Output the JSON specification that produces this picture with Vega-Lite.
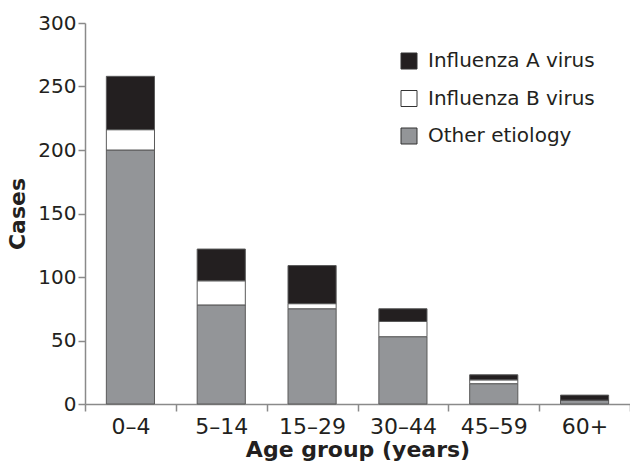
{
  "$schema": "https://vega.github.io/schema/vega-lite/v6.json",
  "width": 545,
  "height": 381,
  "autosize": "none",
  "padding": {"left": 85, "top": 23, "right": 0, "bottom": 60},
  "background": "white",
  "data": {
    "values": [
      {"age": "0–4", "etiology": "Other etiology", "cases": 200},
      {"age": "0–4", "etiology": "Influenza B virus", "cases": 16},
      {"age": "0–4", "etiology": "Influenza A virus", "cases": 42},
      {"age": "5–14", "etiology": "Other etiology", "cases": 78},
      {"age": "5–14", "etiology": "Influenza B virus", "cases": 19},
      {"age": "5–14", "etiology": "Influenza A virus", "cases": 25},
      {"age": "15–29", "etiology": "Other etiology", "cases": 75},
      {"age": "15–29", "etiology": "Influenza B virus", "cases": 4},
      {"age": "15–29", "etiology": "Influenza A virus", "cases": 30},
      {"age": "30–44", "etiology": "Other etiology", "cases": 53},
      {"age": "30–44", "etiology": "Influenza B virus", "cases": 12},
      {"age": "30–44", "etiology": "Influenza A virus", "cases": 10},
      {"age": "45–59", "etiology": "Other etiology", "cases": 16},
      {"age": "45–59", "etiology": "Influenza B virus", "cases": 3},
      {"age": "45–59", "etiology": "Influenza A virus", "cases": 4},
      {"age": "60+", "etiology": "Other etiology", "cases": 3},
      {"age": "60+", "etiology": "Influenza B virus", "cases": 0},
      {"age": "60+", "etiology": "Influenza A virus", "cases": 4}
    ]
  },
  "mark": {"type": "bar", "width": {"band": 0.53}, "stroke": "#5a5a5a", "strokeWidth": 1},
  "encoding": {
    "x": {
      "field": "age",
      "type": "nominal",
      "sort": ["0–4", "5–14", "15–29", "30–44", "45–59", "60+"],
      "scale": {"paddingInner": 0, "paddingOuter": 0},
      "axis": {
        "title": "Age group (years)",
        "titleFontSize": 22,
        "labelFontSize": 22,
        "labelAngle": 0,
        "tickBand": "extent",
        "labelPadding": 5,
        "titlePadding": 2
      }
    },
    "y": {
      "field": "cases",
      "type": "quantitative",
      "stack": "zero",
      "scale": {"domain": [0, 300], "nice": false},
      "axis": {"title": "Cases", "titleFontSize": 22, "values": [0, 50, 100, 150, 200, 250, 300], "grid": false, "labelPadding": 2, "titlePadding": 8}
    },
    "color": {
      "field": "etiology",
      "type": "nominal",
      "scale": {
        "domain": ["Influenza A virus", "Influenza B virus", "Other etiology"],
        "range": ["#231f20", "#ffffff", "#939598"]
      },
      "legend": {
        "title": null,
        "orient": "none",
        "legendX": 314,
        "legendY": 28,
        "symbolType": "square",
        "symbolSize": 256,
        "symbolStrokeColor": "#333333",
        "symbolStrokeWidth": 1,
        "labelFontSize": 20,
        "labelFont": "DejaVu Sans",
        "labelColor": "#231f20",
        "labelLimit": 0,
        "labelOffset": 9,
        "rowPadding": 17.5,
        "padding": 0
      }
    },
    "order": {"field": "etiology", "sort": "descending"}
  },
  "config": {
    "view": {"stroke": null},
    "font": "DejaVu Sans",
    "axis": {
      "labelFont": "DejaVu Sans",
      "labelFontSize": 20,
      "labelColor": "#231f20",
      "titleFont": "DejaVu Sans",
      "titleFontSize": 20,
      "titleFontWeight": "bold",
      "titleColor": "#231f20",
      "domainColor": "#8a8a8a",
      "domainWidth": 1.5,
      "tickColor": "#8a8a8a",
      "tickWidth": 1.5,
      "tickSize": 7
    }
  }
}
